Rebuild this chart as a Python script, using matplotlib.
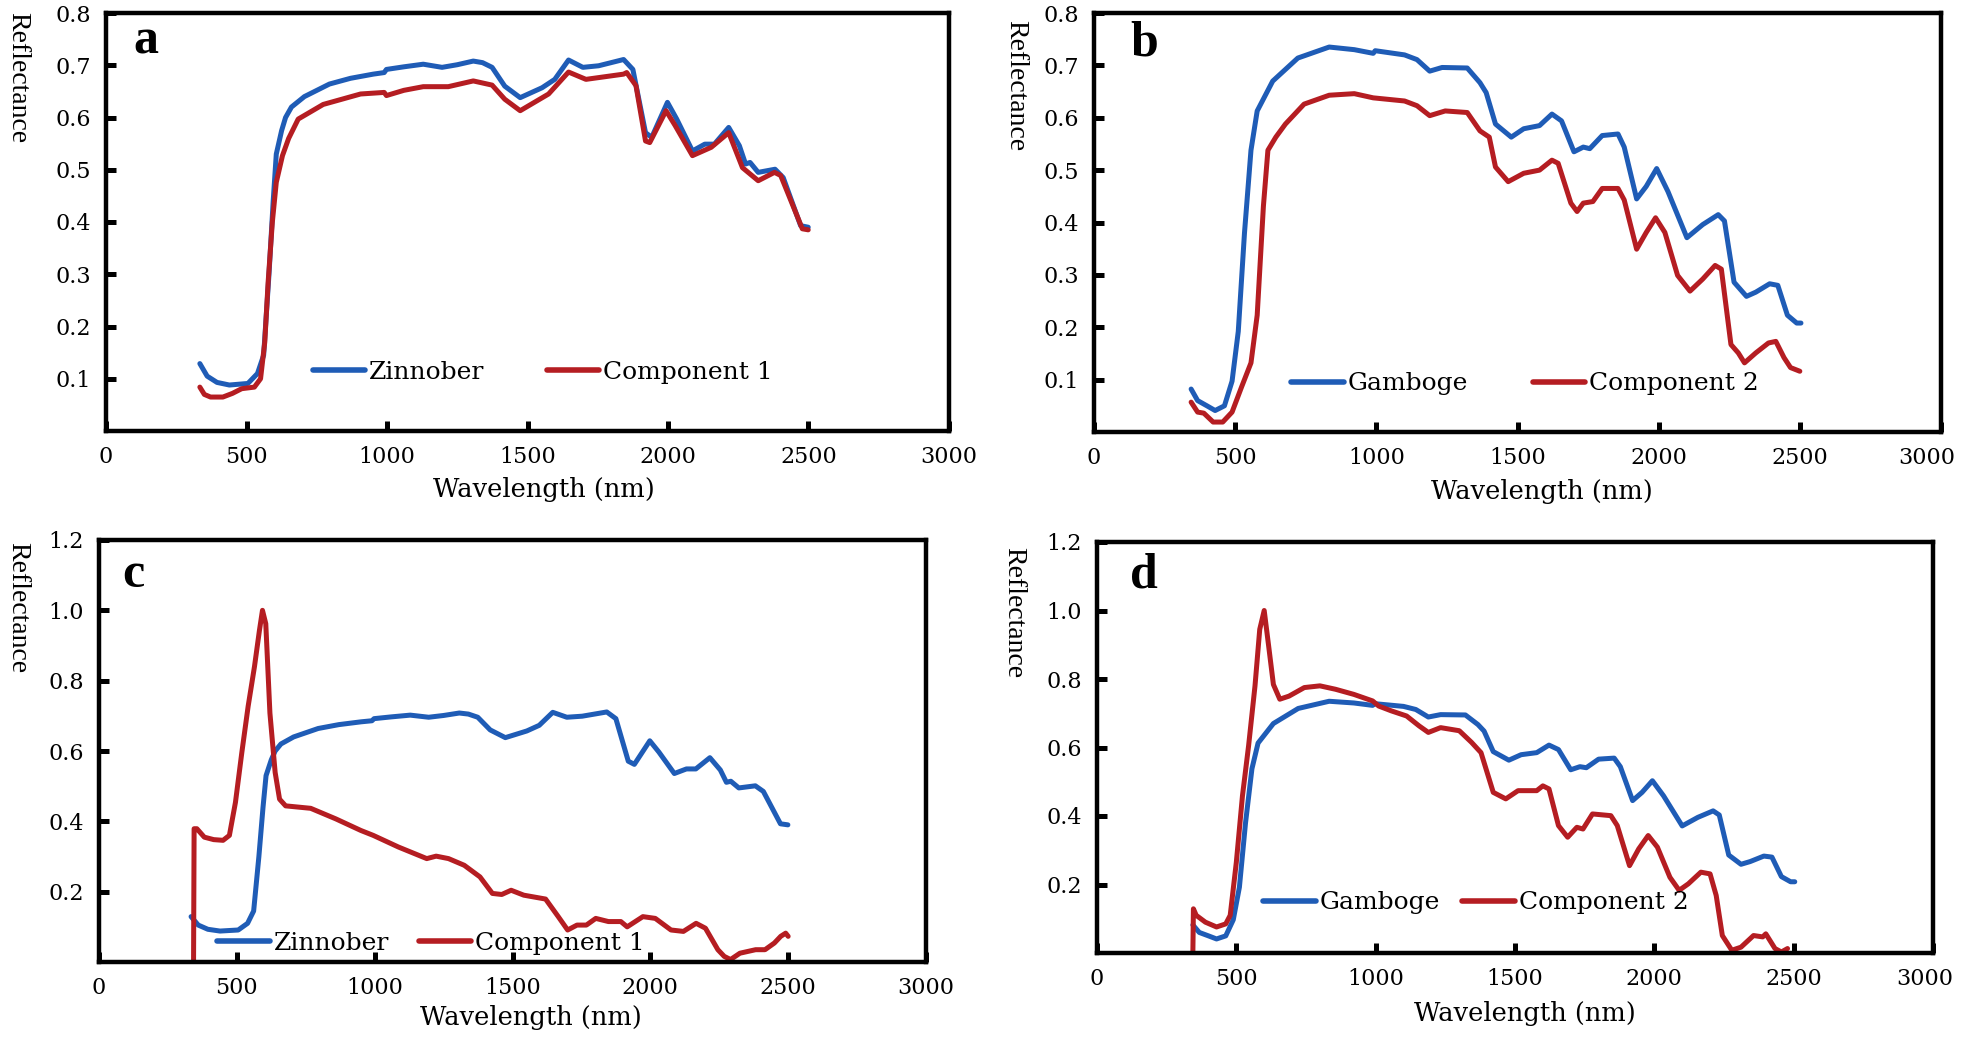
#!/usr/bin/env python3
"""
Reflectance spectra of two pigments and their unmixed components (2x2 panels).
"""

import matplotlib
matplotlib.use("Agg")
import matplotlib.pyplot as plt
from matplotlib.transforms import ScaledTranslation

BLUE = "#1f5cb6"
RED = "#b51d22"

# Zinnober reference spectrum (panels a and c)
ZIN_NM = [334, 360, 395, 439, 505, 539, 561, 580, 595, 606, 625, 639, 660, 706,
          795, 870, 951, 990, 998, 1060, 1129, 1196, 1250, 1307, 1340, 1374,
          1419, 1474, 1552, 1597, 1646, 1697, 1753, 1842, 1875, 1920, 1942,
          1998, 2031, 2087, 2131, 2165, 2216, 2254, 2276, 2292, 2321, 2381,
          2410, 2472, 2499]
ZIN_R = [0.129, 0.105, 0.093, 0.088, 0.091, 0.11, 0.145, 0.30, 0.44, 0.53,
         0.575, 0.60, 0.62, 0.64, 0.664, 0.675, 0.683, 0.686, 0.692, 0.697,
         0.702, 0.696, 0.701, 0.708, 0.705, 0.696, 0.66, 0.638, 0.657, 0.673,
         0.71, 0.696, 0.699, 0.711, 0.692, 0.571, 0.562, 0.629, 0.597, 0.536,
         0.549, 0.549, 0.581, 0.546, 0.511, 0.514, 0.495, 0.501, 0.485, 0.393,
         0.39]

# Component 1, panel a
C1A_NM = [334, 350, 372, 416, 450, 483, 528, 550, 565, 577, 592, 606, 628, 650,
          684, 773, 906, 990, 998, 1060, 1129, 1218, 1307, 1374, 1419, 1474,
          1575, 1646, 1708, 1842, 1853, 1886, 1920, 1935, 1993, 2025, 2087,
          2154, 2216, 2265, 2321, 2379, 2401, 2478, 2499]
C1A_R = [0.084, 0.07, 0.065, 0.065, 0.072, 0.081, 0.084, 0.10, 0.17, 0.285,
         0.40, 0.476, 0.527, 0.56, 0.597, 0.625, 0.645, 0.648, 0.642, 0.652,
         0.659, 0.659, 0.670, 0.662, 0.635, 0.613, 0.645, 0.687, 0.673, 0.683,
         0.686, 0.661, 0.555, 0.552, 0.613, 0.585, 0.527, 0.543, 0.571, 0.504,
         0.479, 0.495, 0.489, 0.387, 0.385]

# Gamboge reference spectrum (panels b and d)
GAM_NM = [344, 367, 400, 429, 462, 489, 511, 533, 556, 578, 633, 722, 833, 922,
          989, 996, 1100, 1144, 1189, 1233, 1322, 1367, 1389, 1422, 1478, 1522,
          1578, 1622, 1656, 1700, 1733, 1756, 1800, 1856, 1878, 1922, 1956,
          1993, 2033, 2100, 2156, 2211, 2233, 2267, 2311, 2344, 2393, 2422,
          2456, 2489, 2504]
GAM_R = [0.082, 0.060, 0.05, 0.041, 0.050, 0.097, 0.192, 0.38, 0.538, 0.613,
         0.67, 0.714, 0.735, 0.730, 0.723, 0.728, 0.72, 0.711, 0.689, 0.696,
         0.695, 0.667, 0.648, 0.588, 0.563, 0.579, 0.585, 0.607, 0.594, 0.535,
         0.544, 0.541, 0.566, 0.569, 0.544, 0.445, 0.469, 0.503, 0.459, 0.371,
         0.396, 0.415, 0.403, 0.286, 0.259, 0.267, 0.283, 0.28, 0.223, 0.208,
         0.208]

# Component 2, panel b
C2B_NM = [344, 367, 389, 422, 456, 489, 522, 556, 578, 600, 616, 644, 678, 744,
          833, 922, 989, 1100, 1144, 1189, 1244, 1322, 1367, 1400, 1422, 1467,
          1522, 1578, 1622, 1644, 1689, 1711, 1733, 1767, 1800, 1856, 1878,
          1922, 1956, 1989, 2022, 2067, 2111, 2156, 2200, 2222, 2256, 2282,
          2304, 2344, 2389, 2415, 2444, 2467, 2500]
C2B_R = [0.057, 0.038, 0.036, 0.019, 0.019, 0.038, 0.085, 0.132, 0.223, 0.431,
         0.538, 0.563, 0.588, 0.626, 0.643, 0.646, 0.638, 0.632, 0.623, 0.604,
         0.613, 0.61, 0.575, 0.563, 0.506, 0.478, 0.494, 0.50, 0.519, 0.513,
         0.437, 0.421, 0.437, 0.44, 0.465, 0.465, 0.443, 0.349, 0.381, 0.409,
         0.381, 0.299, 0.269, 0.292, 0.318, 0.311, 0.167, 0.151, 0.132, 0.151,
         0.17, 0.173, 0.142, 0.123, 0.116]

# Component 1, panel c
C1C_NM = [343, 345, 355, 382, 416, 450, 473, 495, 518, 541, 564, 582, 593, 605,
          620, 639, 655, 677, 768, 859, 950, 995, 1086, 1189, 1223, 1268, 1325,
          1382, 1427, 1461, 1495, 1541, 1620, 1666, 1700, 1734, 1768, 1802,
          1848, 1893, 1916, 1973, 2018, 2075, 2120, 2166, 2200, 2245, 2268,
          2291, 2325, 2382, 2416, 2450, 2473, 2491, 2500]
C1C_R = [0.0, 0.379, 0.379, 0.355, 0.348, 0.346, 0.36, 0.454, 0.595, 0.727,
         0.84, 0.943, 1.0, 0.962, 0.708, 0.539, 0.463, 0.444, 0.437, 0.407,
         0.374, 0.36, 0.327, 0.294, 0.301, 0.294, 0.275, 0.242, 0.195, 0.192,
         0.204, 0.19, 0.179, 0.129, 0.091, 0.105, 0.105, 0.124, 0.115, 0.115,
         0.10, 0.129, 0.124, 0.091, 0.087, 0.11, 0.096, 0.035, 0.016, 0.007,
         0.025, 0.035, 0.035, 0.054, 0.073, 0.082, 0.073]

# Component 2, panel d
C2D_NM = [344, 346, 356, 389, 429, 462, 478, 500, 522, 544, 567, 584, 600, 616,
          633, 656, 689, 744, 800, 856, 922, 989, 1011, 1056, 1111, 1156, 1189,
          1233, 1300, 1344, 1378, 1422, 1467, 1511, 1578, 1600, 1622, 1656,
          1689, 1722, 1744, 1778, 1844, 1867, 1911, 1944, 1978, 2011, 2056,
          2089, 2122, 2167, 2200, 2222, 2244, 2278, 2311, 2356, 2389, 2400,
          2433, 2456, 2478]
C2D_R = [0.0, 0.129, 0.11, 0.09, 0.076, 0.085, 0.11, 0.265, 0.459, 0.605, 0.78,
         0.945, 1.0, 0.896, 0.784, 0.741, 0.75, 0.775, 0.78, 0.77, 0.755,
         0.736, 0.721, 0.707, 0.692, 0.663, 0.644, 0.658, 0.649, 0.615, 0.585,
         0.469, 0.45, 0.474, 0.474, 0.488, 0.479, 0.372, 0.338, 0.367, 0.362,
         0.406, 0.401, 0.372, 0.255, 0.304, 0.343, 0.309, 0.221, 0.183, 0.202,
         0.236, 0.231, 0.168, 0.051, 0.008, 0.017, 0.051, 0.047, 0.056, 0.013,
         0.003, 0.013]

X_TICKS = [0, 500, 1000, 1500, 2000, 2500, 3000]
Y_TICKS_TOP = [0.1, 0.2, 0.3, 0.4, 0.5, 0.6, 0.7, 0.8]
Y_TICKS_BOTTOM = [0.2, 0.4, 0.6, 0.8, 1.0, 1.2]

FIG_W, FIG_H = 1961, 1040
TICK_FONT = "DejaVu Serif"
LABEL_FONT = "Liberation Serif"


def px_rect(left, top, right, bottom):
    """Pixel box -> figure fraction rect."""
    return [left / FIG_W, 1 - bottom / FIG_H,
            (right - left) / FIG_W, (bottom - top) / FIG_H]


def draw_panel(fig, rect, letter, ref, comp, names, yticks, legend_at,
               colspace, letter_px, ylabel_px, xlabel_px, last_shift=0):
    ax = fig.add_axes(rect)
    ax.plot(ref[0], ref[1], color=BLUE, lw=3.6, label=names[0],
            solid_joinstyle="round", solid_capstyle="round")
    ax.plot(comp[0], comp[1], color=RED, lw=3.6, label=names[1],
            solid_joinstyle="round", solid_capstyle="round")

    ax.set_xlim(0, 3000)
    ax.set_ylim(0, yticks[-1])
    ax.set_xticks(X_TICKS)
    ax.set_xticklabels([str(t) for t in X_TICKS])
    ax.set_yticks(yticks)
    ax.set_yticklabels([f"{t:.1f}" for t in yticks])
    ax.tick_params(direction="in", length=7, width=3.6, pad=11,
                   labelsize=16, top=False, right=False)
    for lab in ax.get_xticklabels() + ax.get_yticklabels():
        lab.set_family(TICK_FONT)
    if last_shift:
        # pull the "3000" label back inside the figure edge
        lab = ax.get_xticklabels()[-1]
        lab.set_transform(lab.get_transform() +
                          ScaledTranslation(last_shift / 100, 0,
                                            fig.dpi_scale_trans))
    for sp in ax.spines.values():
        sp.set_linewidth(3.2)

    leg = ax.legend(loc="center left", bbox_to_anchor=legend_at, ncol=2,
                    frameon=False, borderpad=0, borderaxespad=0,
                    handlelength=2.1, handletextpad=0.15,
                    columnspacing=colspace,
                    prop={"family": TICK_FONT, "size": 18})
    for ln in leg.get_lines():
        ln.set_linewidth(4)

    fig.text(letter_px[0] / FIG_W, 1 - letter_px[1] / FIG_H, letter,
             family=LABEL_FONT, weight="bold", size=36,
             ha="left", va="baseline")
    fig.text(ylabel_px[0] / FIG_W, 1 - ylabel_px[1] / FIG_H, "Reflectance",
             family=LABEL_FONT, size=20, rotation=270,
             ha="center", va="top")
    fig.text(xlabel_px[0] / FIG_W, 1 - xlabel_px[1] / FIG_H, "Wavelength (nm)",
             family=TICK_FONT, size=18.5, ha="center", va="center")
    return ax


def main():
    fig = plt.figure(figsize=(FIG_W / 100, FIG_H / 100), dpi=100)

    draw_panel(fig, px_rect(106, 13, 949, 431), "a",
               (ZIN_NM, ZIN_R), (C1A_NM, C1A_R), ("Zinnober", "Component 1"),
               Y_TICKS_TOP, (0.245, 0.141), 2.5,
               (133, 53), (18, 12), (544, 490))
    draw_panel(fig, px_rect(1094, 13, 1941, 432), "b",
               (GAM_NM, GAM_R), (C2B_NM, C2B_R), ("Gamboge", "Component 2"),
               Y_TICKS_TOP, (0.233, 0.115), 2.6,
               (1130, 55), (1016, 20), (1542, 492), last_shift=-14)
    draw_panel(fig, px_rect(99, 540, 926, 962), "c",
               (ZIN_NM, ZIN_R), (C1C_NM, C1C_R), ("Zinnober", "Component 1"),
               Y_TICKS_BOTTOM, (0.143, 0.045), 1.2,
               (122, 587), (18, 542), (531, 1018))
    draw_panel(fig, px_rect(1097, 542, 1933, 953), "d",
               (GAM_NM, GAM_R), (C2D_NM, C2D_R), ("Gamboge", "Component 2"),
               Y_TICKS_BOTTOM, (0.199, 0.122), 0.9,
               (1130, 587), (1014, 547), (1525, 1013), last_shift=-8)

    fig.savefig("out.png", dpi=100)


if __name__ == "__main__":
    main()
